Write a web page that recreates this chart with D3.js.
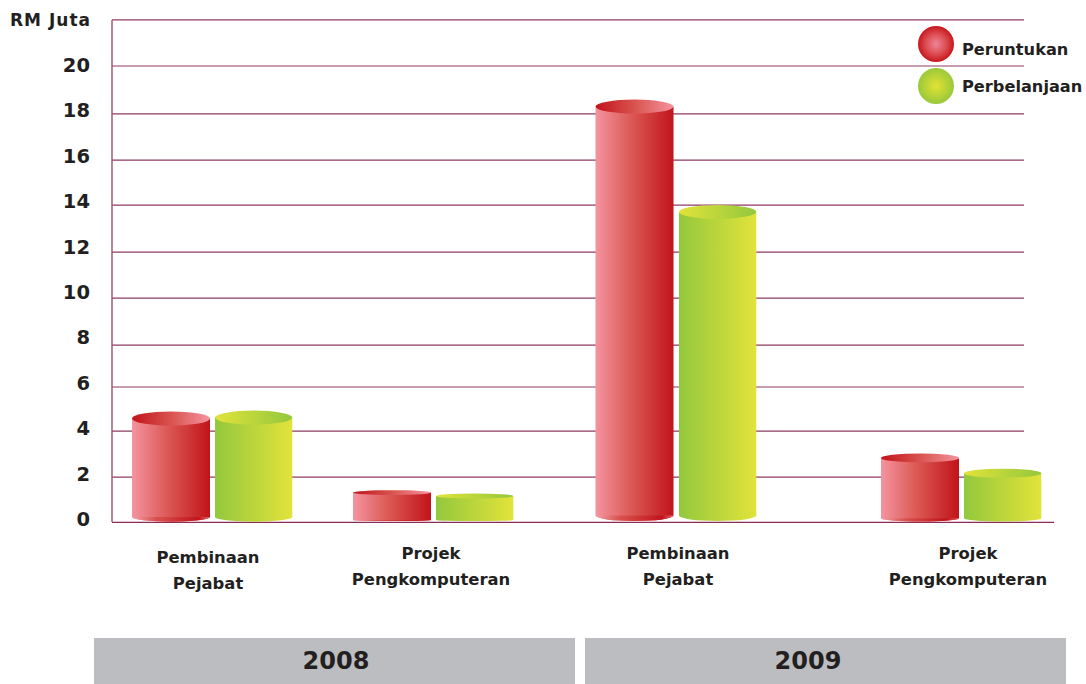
<!DOCTYPE html>
<html><head><meta charset="utf-8">
<script src="https://cdn.jsdelivr.net/npm/d3@7"></script>
<style>html,body{margin:0;padding:0;background:#fff}svg{display:block}
text{font-family:"DejaVu Sans",sans-serif;font-weight:700;fill:#231f20}</style>
</head><body><div id="c"></div>
<script>
const yearLabels = ["2008","2009"];
const categoryLabels = [["Pembinaan","Pejabat"],["Projek","Pengkomputeran"],["Pembinaan","Pejabat"],["Projek","Pengkomputeran"]];
const allocation = [4.54, 1.29, 18.22, 2.81];
const spending = [4.58, 1.14, 13.6, 2.14];
const seriesNames = ["Peruntukan","Perbelanjaan"];
const tickValues = [0,2,4,6,8,10,12,14,16,18,20];
// Printed rules sit slightly off the nominal tick values
const ruleValues = [22.02,20,17.9,15.87,13.9,11.84,9.82,7.76,5.92,3.99,1.97];

const W=1086,H=684;
const svg=d3.select("#c").append("svg").attr("width",W).attr("height",H);
const y=d3.scaleLinear().domain([0,20]).range([522,66]);
const yLabel=d3.scaleLinear().domain([0,20]).range([526,72]);
const redX=d3.scaleOrdinal().domain([0,1,2,3]).range([132,353,595.5,881]);
const greenX=d3.scaleOrdinal().domain([0,1,2,3]).range([215,436,679,964]);
const barW=78, greenW=77.3;
const defs=svg.append("defs");
function lin(id,stops){const g=defs.append("linearGradient").attr("id",id);
  stops.forEach(s=>g.append("stop").attr("offset",s[0]).attr("stop-color",s[1]));}
function rad(id,stops){const g=defs.append("radialGradient").attr("id",id);
  stops.forEach(s=>g.append("stop").attr("offset",s[0]).attr("stop-color",s[1]));}
const redS=[[0,"#f4949f"],[.5,"#d9534f"],[1,"#c1141a"]], greenS=[[0,"#93c83d"],[1,"#e2e33a"]];
lin("rB",redS);lin("gB",greenS);
lin("rT",redS.map(s=>[1-s[0],s[1]]).reverse());lin("gT",greenS.map(s=>[1-s[0],s[1]]).reverse());
lin("rF",[[0,"#f4a0aa"],[.3,"#d9534f"],[.85,"#c1141a"],[1,"#e56b70"]]);
rad("rL",[[0,"#ee8595"],[.55,"#dc5055"],[1,"#c8161d"]]);rad("gL",[[0,"#e2e233"],[1,"#99c93c"]]);

// rules and axis
svg.append("g").selectAll("line").data(ruleValues).join("line")
 .attr("x1",112).attr("x2",1024).attr("y1",d=>y(d)).attr("y2",d=>y(d))
 .attr("stroke","#8f3a63").attr("stroke-width",1.2);
svg.append("line").attr("x1",112).attr("x2",1054).attr("y1",y(0)+.3).attr("y2",y(0)+.3).attr("stroke","#8a2a55").attr("stroke-width",1.3);
svg.append("line").attr("x1",112).attr("x2",112).attr("y1",y(22.02)).attr("y2",y(0)).attr("stroke","#9b4f74").attr("stroke-width",1.4);

svg.append("g").selectAll("text").data(tickValues).join("text")
 .attr("x",90).attr("y",d=>yLabel(d)).attr("text-anchor","end").attr("font-size",19.5).text(d=>d);
svg.append("text").attr("x",90).attr("y",26).attr("text-anchor","end").attr("font-size",17).attr("textLength",80).text("RM Juta");

// cylinders
function cyl(g,x,w,val,ids,fringe){
  const top=y(val);
  const ry=val<2?2.4:(val<3?4.5:7);
  const base=val<2?520:(val<3?518.3:(val>10?515.5:517));
  const bry=val<2?1:(val<3?3.2:(val>10?5.5:4.7));
  const xr=x+w, cx=x+w/2;
  g.append("path").attr("d",`M${x},${top}L${x},${base}A${w/2},${bry} 0 0 0 ${xr},${base}L${xr},${top}Z`).attr("fill",`url(#${ids[0]})`);
  if(fringe) g.append("path").attr("d",`M${x},${base}A${w/2},${bry} 0 0 0 ${xr},${base}Z`).attr("fill",`url(#${fringe})`);
  g.append("ellipse").attr("cx",cx).attr("cy",top).attr("rx",w/2).attr("ry",ry).attr("fill",`url(#${ids[1]})`);
}
const bars=svg.append("g");
allocation.forEach((v,i)=>cyl(bars,redX(i),barW,v,["rB","rT"],"rF"));
spending.forEach((v,i)=>cyl(bars,greenX(i),greenW,v,["gB","gT"],null));

// category labels
const catPos=[[208,562.5],[431,559],[678,559],[968,559]];
categoryLabels.forEach((l,i)=>{
  l.forEach((t,j)=>svg.append("text").attr("x",catPos[i][0]).attr("y",catPos[i][1]+j*26).attr("text-anchor","middle").attr("font-size",16.4).text(t));
});

// legend
seriesNames.forEach((n,i)=>{
  svg.append("circle").attr("cx",936).attr("cy",[44,86][i]).attr("r",18).attr("fill",`url(#${["rL","gL"][i]})`);
  svg.append("text").attr("x",962).attr("y",[54.5,91.5][i]).attr("font-size",16.2).text(n);
});

// year bands
yearLabels.forEach((t,i)=>{
  const x=[94,585][i], w=481;
  svg.append("rect").attr("x",x).attr("y",638).attr("width",w).attr("height",46).attr("fill","#bcbdc1");
  svg.append("text").attr("x",[336,808][i]).attr("y",669).attr("text-anchor","middle").attr("font-size",24).text(t);
});
</script></body></html>
